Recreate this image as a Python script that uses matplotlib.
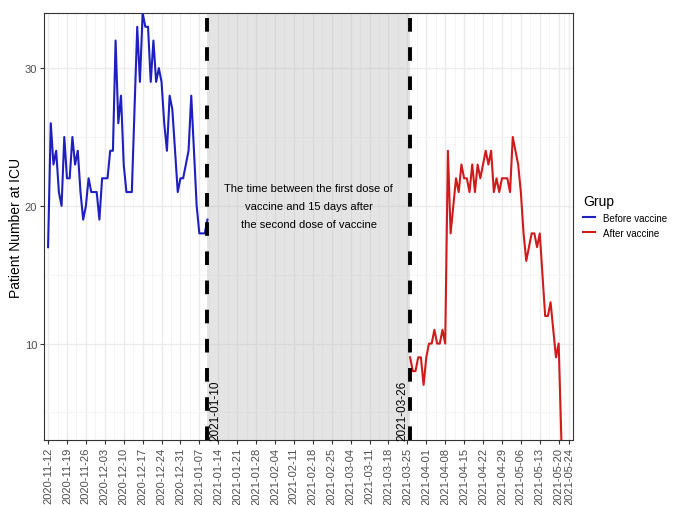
import matplotlib
matplotlib.use('Agg')
import matplotlib.pyplot as plt
import numpy as np
import pandas as pd

plt.rcParams['font.family'] = ['Liberation Sans', 'DejaVu Sans']

# daily ICU patient counts
before_start = '2020-11-12'
before_vals = [17, 26, 23, 24, 21, 20, 25, 22, 22, 25,
               23, 24, 21, 19, 20, 22, 21, 21, 21, 19,
               22, 22, 22, 24, 24, 32, 26, 28, 23, 21,
               21, 21, 27, 33, 29, 34, 33, 33, 29, 32,
               29, 30, 29, 26, 24, 28, 27, 24, 21, 22,
               22, 23, 24, 28, 24, 20, 18, 18, 18, 19]
after_start = '2021-03-26'
after_vals = [9, 8, 8, 9, 9, 7, 9, 10, 10, 11,
              10, 10, 11, 10, 24, 18, 20, 22, 21, 23,
              22, 22, 21, 23, 21, 23, 22, 23, 24, 23,
              24, 21, 22, 21, 22, 22, 22, 21, 25, 24,
              23, 21, 18, 16, 17, 18, 18, 17, 18, 15,
              12, 12, 13, 11, 9, 10, 3]

first_dose = pd.Timestamp('2021-01-10')
protected = pd.Timestamp('2021-03-26')
note = 'The time between the first dose of\nvaccine and 15 days after\nthe second dose of vaccine'

tick_dates = list(pd.date_range('2020-11-12', '2021-05-20', freq='7D')) + [pd.Timestamp('2021-05-24')]
y_ticks = [10, 20, 30]

before_dates = pd.date_range(before_start, periods=len(before_vals))
after_dates = pd.date_range(after_start, periods=len(after_vals))

fig = plt.figure(figsize=(6.73, 5.06), dpi=100)
ax = fig.add_axes([0.0654, 0.1285, 0.786, 0.8438])

# shaded period between the doses
ax.axvspan(first_dose, protected, color='#bdbdbd', alpha=0.4, lw=0, zorder=1)

ax.plot(before_dates, before_vals, color='#1f1fc0', lw=1.5, label='Before vaccine', zorder=3)
ax.plot(after_dates, after_vals, color='#cf1b1b', lw=1.5, label='After vaccine', zorder=3)

for d in (first_dose, protected):
    ax.axvline(d, color='black', lw=2.8, dashes=(3.5, 4), zorder=4)

ax.annotate(first_dose.strftime('%Y-%m-%d'), xy=(first_dose, 5.2), xytext=(1.2, 0),
            textcoords='offset points', rotation=90, ha='left', va='center',
            fontsize=8.5, annotation_clip=False, zorder=5)
ax.annotate(protected.strftime('%Y-%m-%d'), xy=(protected, 5.2), xytext=(-1.2, 0),
            textcoords='offset points', rotation=90, ha='right', va='center',
            fontsize=8.5, annotation_clip=False, zorder=5)

mid = first_dose + (protected - first_dose) / 2
ax.text(mid, 20, note, ha='center', va='center', fontsize=8, linespacing=2.0, zorder=5)

# axes, ticks and grid
ax.set_xlim(pd.Timestamp(before_start) - pd.Timedelta(days=1.5),
            pd.Timestamp('2021-05-20') + pd.Timedelta(days=5.3))
ax.set_ylim(3, 34)
ax.set_xticks(tick_dates)
ax.set_xticklabels([t.strftime('%Y-%m-%d') for t in tick_dates], rotation=90)
minor_x = [tick_dates[i] + (tick_dates[i + 1] - tick_dates[i]) / 2 for i in range(len(tick_dates) - 1)]
ax.set_xticks(minor_x, minor=True)
ax.set_yticks(y_ticks)
ax.set_yticks([5, 15, 25], minor=True)

ax.grid(which='major', color='#ebebeb', lw=1.0, zorder=0)
ax.grid(which='minor', color='#f3f3f3', lw=0.6, zorder=0)
ax.set_axisbelow(True)
ax.tick_params(which='major', length=3, width=0.8, color='#333333', labelcolor='#4d4d4d',
               labelsize=8, pad=2)
ax.tick_params(which='minor', length=0)
for s in ax.spines.values():
    s.set_color('#333333')
    s.set_linewidth(0.8)

ax.set_ylabel('Patient Number at ICU', fontsize=10, labelpad=1)

leg = ax.legend(loc='center left', bbox_to_anchor=(1.012, 0.525), frameon=False,
                title='Grup', fontsize=7, title_fontsize=10, handlelength=1.2,
                alignment='left', borderaxespad=0)

fig.savefig('out.png', dpi=100)
